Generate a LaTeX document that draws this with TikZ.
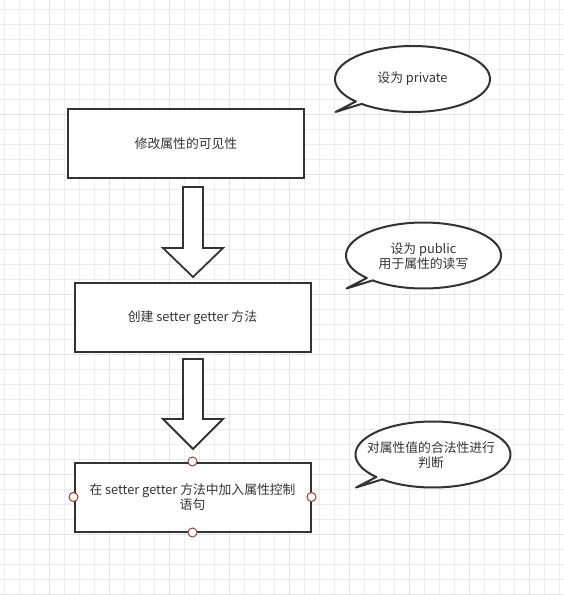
\documentclass[tikz,border=0pt]{standalone}
\usepackage{fontspec}
\newfontfamily\cjk{Noto Sans CJK SC}
\usetikzlibrary{calc}
\definecolor{ink}{HTML}{333333}
\definecolor{gridminor}{HTML}{EEEEEE}
\definecolor{gridmajor}{HTML}{E3E3E3}
\definecolor{gripred}{HTML}{A33A3A}
\begin{document}
\begin{tikzpicture}[x=1pt,y=1pt,
  txt/.style={font=\cjk\fontsize{12.8}{15}\selectfont, text=ink, align=center},
  procbox/.style={draw=ink, line width=2pt, fill=white, minimum width=236pt,
    minimum height=69pt, inner sep=0pt, txt},
  callout/.style={draw=ink, line width=2pt, fill=white, line join=round},
  downarrow/.style={draw=ink, line width=1.8pt, fill=white, line join=miter},
  grip/.style={circle, draw=gripred, line width=1pt, fill=white,
    minimum size=9pt, inner sep=0pt}
]
% page and background grid
\useasboundingbox (0,0) rectangle (564,-595);
\fill[white] (0,0) rectangle (564,-595);
\foreach \x in {4,19,...,560} \draw[gridminor, line width=1pt] (\x,0) -- (\x,-595);
\foreach \y in {9,24,...,595} \draw[gridminor, line width=1pt] (0,-\y) -- (564,-\y);
\foreach \x in {49,109,...,560} \draw[gridmajor, line width=1pt] (\x,0) -- (\x,-595);
\foreach \y in {54,114,...,595} \draw[gridmajor, line width=1pt] (0,-\y) -- (564,-\y);

% process steps
\node[procbox] (vis)  at (186,-143.5) {修改属性的可见性};
\node[procbox] (acc)  at (192.5,-317.5) {创建 setter getter 方法};
\node[procbox] (ctrl) at (192.5,-497) {在 setter getter 方法中加入属性控制\\语句};

% block arrows between the steps
\draw[downarrow] (183,-187) -- (203,-187) -- (203,-248) -- (223,-248)
  -- (193,-277) -- (163,-248) -- (183,-248) -- cycle;
\draw[downarrow] (183,-359) -- (203,-359) -- (203,-419) -- (223,-419)
  -- (193,-449) -- (163,-419) -- (183,-419) -- cycle;

% selection grips on the last step
\node[grip] (gn) at (ctrl.north) {};
\node[grip] (gs) at (ctrl.south) {};
\node[grip] (gw) at (ctrl.west) {};
\node[grip] (ge) at (ctrl.east) {};

% speech bubbles: ellipse with a tail towards the lower left
\coordinate (c1) at (412.5,-79);
\coordinate (c2) at (423.5,-255.5);
\coordinate (c3) at (433,-454.5);
\foreach \c in {c1,c2,c3}{
  \draw[callout] ($(\c)+(229:77.5pt and 33pt)$)
    arc[start angle=229, end angle=583, x radius=77.5pt, y radius=33pt]
    -- ($(\c)+(-77,-33)$) -- cycle;
}
\node[txt] (n1) at (c1) {设为 private};
\node[txt] (n2) at ($(c2)+(0,-1)$) {设为 public\\用于属性的读写};
\node[txt] (n3) at ($(c3)+(-2,-1)$) {对属性值的合法性进行\\判断};
\end{tikzpicture}
\end{document}
